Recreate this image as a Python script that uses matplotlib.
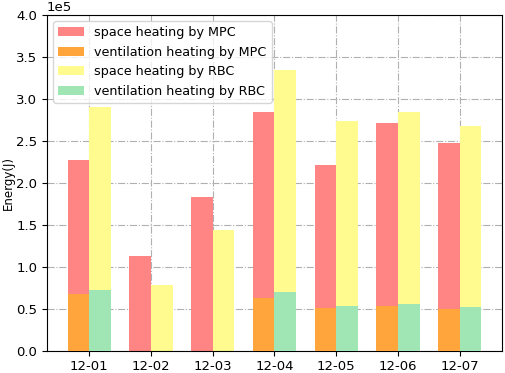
import matplotlib
matplotlib.use("Agg")
import matplotlib.pyplot as plt
import numpy as np

days = ["12-01", "12-02", "12-03", "12-04", "12-05", "12-06", "12-07"]
space_mpc = [2.27e5, 1.13e5, 1.84e5, 2.85e5, 2.21e5, 2.71e5, 2.48e5]
vent_mpc = [0.68e5, 0.0, 0.0, 0.64e5, 0.52e5, 0.54e5, 0.50e5]
space_rbc = [2.91e5, 0.79e5, 1.44e5, 3.35e5, 2.74e5, 2.85e5, 2.68e5]
vent_rbc = [0.73e5, 0.0, 0.0, 0.70e5, 0.54e5, 0.56e5, 0.53e5]

fig = plt.figure(figsize=(5.05, 3.73), dpi=100)
ax = fig.add_axes([0.093, 0.058, 0.901, 0.902])
x = np.arange(len(days))
w = 0.35
ax.bar(x - w/2, space_mpc, w, color="#FF8585", label="space heating by MPC", zorder=2)
ax.bar(x - w/2, vent_mpc, w, color="#FFA53C", label="ventilation heating by MPC", zorder=3)
ax.bar(x + w/2, space_rbc, w, color="#FFFB8E", label="space heating by RBC", zorder=2)
ax.bar(x + w/2, vent_rbc, w, color="#A0E6B4", label="ventilation heating by RBC", zorder=3)
ax.set_xticks(x)
ax.set_xticklabels(days, fontsize=9.5)
ax.tick_params(axis="x", pad=2.5)
ax.tick_params(axis="y", labelsize=9.5)
ax.set_ylim(0, 4.0e5)
ax.ticklabel_format(style="sci", axis="y", scilimits=(0, 0))
ax.yaxis.get_offset_text().set_fontsize(9.5)
ax.set_ylabel("Energy(J)", fontsize=8.5)
ax.yaxis.set_label_coords(-0.07, 0.5)
ax.grid(True, color="#b0b0b0", linestyle="-.", linewidth=0.8, zorder=0)
ax.set_axisbelow(True)
ax.legend(loc="upper left", fontsize=9.2)
fig.savefig("out.png", dpi=100)
